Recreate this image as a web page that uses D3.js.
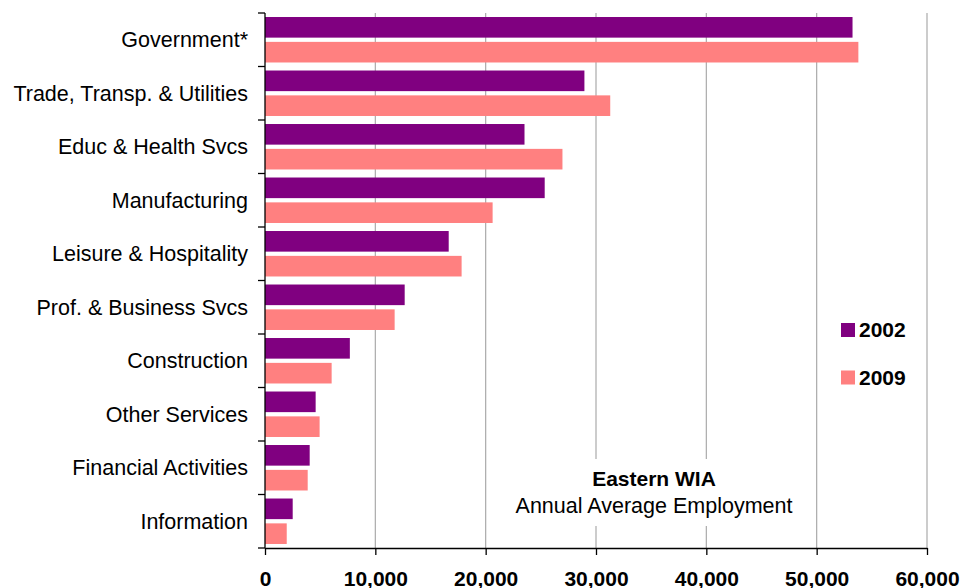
<!DOCTYPE html>
<html>
<head>
<meta charset="utf-8">
<script src="https://cdn.jsdelivr.net/npm/d3@7"></script>
<style>
  body { margin: 0; background: #fff; }
  text { font-family: "Liberation Sans", Arial, Helvetica, sans-serif; }
</style>
</head>
<body>
<svg width="961" height="588"></svg>
<script>
// industries, top to bottom
var categories = ["Government*", "Trade, Transp. & Utilities", "Educ & Health Svcs",
  "Manufacturing", "Leisure & Hospitality", "Prof. & Business Svcs",
  "Construction", "Other Services", "Financial Activities", "Information"];
var years = ["2002", "2009"];
var values2002 = [53250, 28950, 23520, 25350, 16650, 12660, 7690, 4590, 4050, 2510];
var values2009 = [53780, 31290, 26960, 20630, 17820, 11750, 6040, 4950, 3870, 1970];
var xTicks = [0, 10000, 20000, 30000, 40000, 50000, 60000];
var colors = ["#800080", "#ff8080"];

var svg = d3.select("svg"),
    pLeft = 265, pRight = 927, pTop = 13, pBottom = 548;

var x = d3.scaleLinear().domain([0, 60000]).range([pLeft, pRight]);
var y = d3.scaleBand().domain(categories).range([pTop, pBottom]).paddingInner(0.15).paddingOuter(0.075);
var yInner = d3.scaleBand().domain(years).range([0, y.bandwidth()]).paddingInner(0.17);
var color = d3.scaleOrdinal().domain(years).range(colors);

var data = categories.map(function(c, i) {
  return { cat: c, vals: [{ year: "2002", v: values2002[i] }, { year: "2009", v: values2009[i] }] };
});

// gridlines
svg.append("g").selectAll("line")
  .data(xTicks.slice(1))
  .enter().append("line")
    .attr("x1", function(d) { return x(d); })
    .attr("x2", function(d) { return x(d); })
    .attr("y1", pTop).attr("y2", pBottom)
    .attr("stroke", "#aaa").attr("stroke-width", 1.2);

// bars
var groups = svg.append("g").selectAll("g")
  .data(data)
  .enter().append("g")
    .attr("transform", function(d) { return "translate(0," + y(d.cat) + ")"; });

groups.selectAll("rect")
  .data(function(d) { return d.vals; })
  .enter().append("rect")
    .attr("x", x(0))
    .attr("y", function(d) { return yInner(d.year); })
    .attr("width", function(d) { return x(d.v) - x(0); })
    .attr("height", yInner.bandwidth())
    .attr("fill", function(d) { return color(d.year); });

// y axis: ticks at band boundaries, labels centred on bands
var yAxis = svg.append("g");
yAxis.append("line").attr("x1", pLeft).attr("x2", pLeft).attr("y1", pTop).attr("y2", pBottom)
  .attr("stroke", "#000").attr("stroke-width", 1.3);
var bounds = d3.range(categories.length + 1).map(function(i) { return pTop + i * y.step(); });
yAxis.selectAll("line.tick")
  .data(bounds)
  .enter().append("line").attr("class", "tick")
    .attr("x1", pLeft - 7).attr("x2", pLeft)
    .attr("y1", function(d) { return d; }).attr("y2", function(d) { return d; })
    .attr("stroke", "#000").attr("stroke-width", 1.3);
yAxis.selectAll("text")
  .data(categories)
  .enter().append("text")
    .attr("x", 248)
    .attr("y", function(d) { return y(d) + y.bandwidth() / 2; })
    .attr("dy", "0.36em")
    .attr("text-anchor", "end")
    .attr("font-size", 21.5)
    .attr("fill", "#000")
    .text(function(d) { return d; });

// x axis
var xAxis = svg.append("g")
  .attr("transform", "translate(0," + pBottom + ")")
  .call(d3.axisBottom(x).tickValues(xTicks).tickSize(7).tickSizeOuter(0).tickPadding(16)
    .tickFormat(d3.format(",")));
xAxis.select(".domain").attr("stroke-width", 1.3);
xAxis.selectAll(".tick line").attr("stroke-width", 1.3);
xAxis.selectAll("text")
  .attr("font-family", "Liberation Sans, Arial, sans-serif")
  .attr("font-size", 21).attr("font-weight", "bold").attr("fill", "#000");

// title box
svg.append("rect").attr("x", 505).attr("y", 459).attr("width", 300).attr("height", 67).attr("fill", "#fff");
svg.append("text").attr("x", 654).attr("y", 486).attr("text-anchor", "middle")
  .attr("font-size", 21).attr("font-weight", "bold").text("Eastern WIA");
svg.append("text").attr("x", 654).attr("y", 513).attr("text-anchor", "middle")
  .attr("font-size", 21.5).text("Annual Average Employment");

// legend
var legend = svg.append("g").selectAll("g")
  .data(years)
  .enter().append("g")
    .attr("transform", function(d, i) { return "translate(841," + (323 + i * 47.5) + ")"; });
legend.append("rect").attr("width", 14).attr("height", 14).attr("fill", function(d) { return color(d); });
legend.append("text").attr("x", 18).attr("y", 14)
  .attr("font-size", 21).attr("font-weight", "bold").text(function(d) { return d; });
</script>
</body>
</html>
